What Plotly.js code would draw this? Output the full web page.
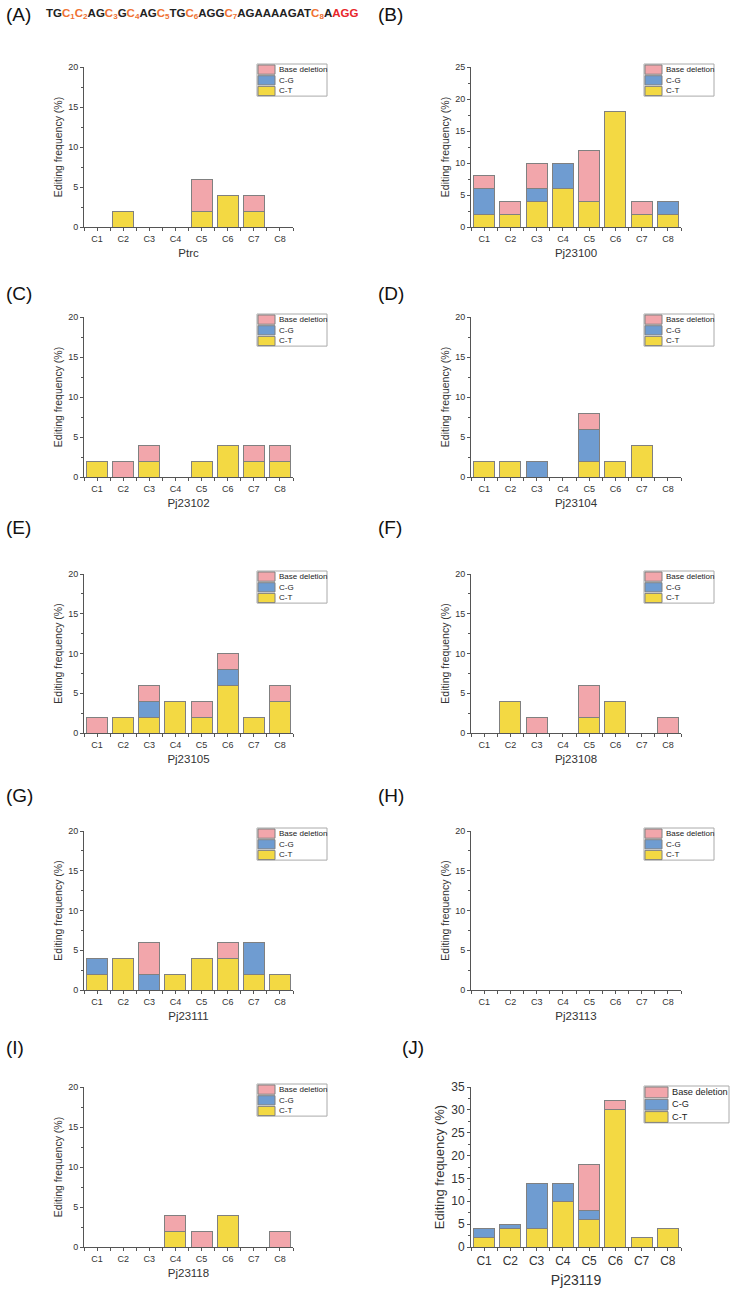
<!DOCTYPE html>
<html>
<head>
<meta charset="utf-8">
<script src="https://cdn.plot.ly/plotly-3.0.1.min.js"></script>
<style>
  html, body { margin: 0; padding: 0; background: #fff; }
  #chart { width: 732px; height: 1289px; }
</style>
</head>
<body>
<div id="chart"></div>
<script>
// editing positions and promoters
const categories = ["C1", "C2", "C3", "C4", "C5", "C6", "C7", "C8"];
const panelLabels = ["(A)", "(B)", "(C)", "(D)", "(E)", "(F)", "(G)", "(H)", "(I)", "(J)"];
const promoters = ["Ptrc", "Pj23100", "Pj23102", "Pj23104", "Pj23105", "Pj23108", "Pj23111", "Pj23113", "Pj23118", "Pj23119"];
const yMaxima = [20, 25, 20, 20, 20, 20, 20, 20, 20, 35];

// editing frequency (%), stacked C-T / C-G / base deletion
const ptrcCT = [0, 2, 0, 0, 2, 4, 2, 0];
const ptrcCG = [0, 0, 0, 0, 0, 0, 0, 0];
const ptrcDel = [0, 0, 0, 0, 4, 0, 2, 0];

const pj23100CT = [2, 2, 4, 6, 4, 18, 2, 2];
const pj23100CG = [4, 0, 2, 4, 0, 0, 0, 2];
const pj23100Del = [2, 2, 4, 0, 8, 0, 2, 0];

const pj23102CT = [2, 0, 2, 0, 2, 4, 2, 2];
const pj23102CG = [0, 0, 0, 0, 0, 0, 0, 0];
const pj23102Del = [0, 2, 2, 0, 0, 0, 2, 2];

const pj23104CT = [2, 2, 0, 0, 2, 2, 4, 0];
const pj23104CG = [0, 0, 2, 0, 4, 0, 0, 0];
const pj23104Del = [0, 0, 0, 0, 2, 0, 0, 0];

const pj23105CT = [0, 2, 2, 4, 2, 6, 2, 4];
const pj23105CG = [0, 0, 2, 0, 0, 2, 0, 0];
const pj23105Del = [2, 0, 2, 0, 2, 2, 0, 2];

const pj23108CT = [0, 4, 0, 0, 2, 4, 0, 0];
const pj23108CG = [0, 0, 0, 0, 0, 0, 0, 0];
const pj23108Del = [0, 0, 2, 0, 4, 0, 0, 2];

const pj23111CT = [2, 4, 0, 2, 4, 4, 2, 2];
const pj23111CG = [2, 0, 2, 0, 0, 0, 4, 0];
const pj23111Del = [0, 0, 4, 0, 0, 2, 0, 0];

const pj23113CT = [0, 0, 0, 0, 0, 0, 0, 0];
const pj23113CG = [0, 0, 0, 0, 0, 0, 0, 0];
const pj23113Del = [0, 0, 0, 0, 0, 0, 0, 0];

const pj23118CT = [0, 0, 0, 2, 0, 4, 0, 0];
const pj23118CG = [0, 0, 0, 0, 0, 0, 0, 0];
const pj23118Del = [0, 0, 0, 2, 2, 0, 0, 2];

const pj23119CT = [2, 4, 4, 10, 6, 30, 2, 4];
const pj23119CG = [2, 1, 10, 4, 2, 0, 0, 0];
const pj23119Del = [0, 0, 0, 0, 10, 2, 0, 0];

const ctSeries = [ptrcCT, pj23100CT, pj23102CT, pj23104CT, pj23105CT, pj23108CT, pj23111CT, pj23113CT, pj23118CT, pj23119CT];
const cgSeries = [ptrcCG, pj23100CG, pj23102CG, pj23104CG, pj23105CG, pj23108CG, pj23111CG, pj23113CG, pj23118CG, pj23119CG];
const delSeries = [ptrcDel, pj23100Del, pj23102Del, pj23104Del, pj23105Del, pj23108Del, pj23111Del, pj23113Del, pj23118Del, pj23119Del];

const W = 732, H = 1289;
const fx = (px) => px / W;
const fy = (py) => 1 - py / H;

const colX = [[84, 293], [471, 681]];
const rowY = [[67, 227], [317, 477], [574, 733], [831, 990], [1087, 1247]];
const labelPos = [[4, 15], [376, 15], [4, 293], [376, 293], [4, 527], [376, 527], [4, 795], [376, 795], [4, 1047], [400, 1047]];

const fills = { "C-T": "#f3d943", "C-G": "#6f9cd1", "Base deletion": "#f2a6ab" };
const outline = "#808080";
const axisColor = "#555";
const textColor = "#333";
const FONT = "Liberation Sans, Arial, sans-serif";

const positions = categories.map((c, i) => i);
const traces = [];
const shapes = [];
const annotations = [];
const layout = {
  width: W,
  height: H,
  margin: { l: 0, r: 0, t: 0, b: 0 },
  paper_bgcolor: "#fff",
  plot_bgcolor: "rgba(0,0,0,0)",
  barmode: "stack",
  showlegend: false,
  font: { family: FONT, color: textColor },
};

function addLegend(x0, x1, top, rowH, swW, fontSize) {
  const rows = ["Base deletion", "C-G", "C-T"];
  shapes.push({
    type: "rect", xref: "paper", yref: "paper",
    x0: fx(x0), x1: fx(x1), y0: fy(top + rowH * 3), y1: fy(top),
    line: { color: "#aaa", width: 1 }, fillcolor: "#fff",
  });
  rows.forEach((nm, r) => {
    shapes.push({
      type: "rect", xref: "paper", yref: "paper",
      x0: fx(x0 + 1), x1: fx(x0 + 1 + swW),
      y0: fy(top + (r + 1) * rowH - 0.5), y1: fy(top + r * rowH + 1),
      line: { color: outline, width: 1 }, fillcolor: fills[nm],
    });
    annotations.push({
      xref: "paper", yref: "paper", x: fx(x0 + swW + 3), y: fy(top + (r + 0.5) * rowH),
      xanchor: "left", yanchor: "middle", showarrow: false, text: nm,
      font: { size: fontSize, color: "#222", family: FONT },
    });
  });
}

promoters.forEach((name, i) => {
  const col = i % 2, row = Math.floor(i / 2);
  const big = i === 9;
  const n = i === 0 ? "" : String(i + 1);
  const xa = "x" + n, ya = "y" + n;

  [[ctSeries[i], "C-T"], [cgSeries[i], "C-G"], [delSeries[i], "Base deletion"]].forEach(([vals, nm]) => {
    traces.push({
      type: "bar",
      x: positions,
      y: vals,
      name: nm,
      xaxis: xa,
      yaxis: ya,
      width: 0.8,
      customdata: categories,
      hovertemplate: name + " %{customdata}<br>" + nm + ": %{y}%<extra></extra>",
      marker: { color: fills[nm], line: { color: outline, width: 1 } },
    });
  });

  layout["xaxis" + n] = {
    domain: [fx(colX[col][0]), fx(colX[col][1])],
    anchor: ya,
    range: [-0.5, 7.5],
    tickmode: "array",
    tickvals: positions,
    ticktext: categories,
    ticks: "outside",
    ticklen: 3,
    tickcolor: axisColor,
    showline: true,
    linecolor: axisColor,
    linewidth: 1,
    showgrid: false,
    zeroline: false,
    tickfont: { size: big ? 12 : 9, color: textColor },
    minor: { tickmode: "linear", tick0: 0.5, dtick: 1, ticks: "outside", ticklen: 3, tickcolor: axisColor },
    title: { text: name, font: { size: big ? 14 : 11.5, color: textColor }, standoff: big ? 7 : 6 },
    fixedrange: true,
  };
  layout["yaxis" + n] = {
    domain: [fy(rowY[row][1]), fy(rowY[row][0])],
    anchor: xa,
    range: [0, yMaxima[i]],
    dtick: 5,
    ticks: "outside",
    ticklen: 3,
    tickcolor: axisColor,
    showline: true,
    linecolor: axisColor,
    linewidth: 1,
    showgrid: false,
    zeroline: false,
    tickfont: { size: big ? 12 : 9, color: textColor },
    minor: { dtick: 2.5, ticks: "outside", ticklen: 2, tickcolor: axisColor },
    title: { text: "Editing frequency (%)", font: { size: big ? 13 : 10.5, color: textColor }, standoff: 3 },
    fixedrange: true,
  };

  annotations.push({
    xref: "paper", yref: "paper", x: fx(labelPos[i][0]), y: fy(labelPos[i][1]),
    xanchor: "left", yanchor: "middle", showarrow: false, text: panelLabels[i],
    font: { size: 19, color: "#111", family: FONT },
  });

  if (big) {
    addLegend(644, 729, rowY[row][0] - 1, 12.3, 23, 9.2);
  } else {
    addLegend(col === 0 ? 257 : 644, col === 0 ? 327 : 714, rowY[row][0] - 3, 10.7, 17, 8);
  }
});

// sgRNA sequence with numbered cytosines
const orange = "#f07232", red = "#e8262a";
const cPos = (k) => `<span style="color:${orange}">C<sub>${k}</sub></span>`;
const seqText = "<b>TG" + cPos(1) + cPos(2) + "AG" + cPos(3) + "G" + cPos(4) + "AG" + cPos(5) +
  "TG" + cPos(6) + "AGG" + cPos(7) + "AGAAAAGAT" + cPos(8) + "A" +
  `<span style="color:${red}">AGG</span></b>`;
annotations.push({
  xref: "paper", yref: "paper", x: fx(44), y: fy(14),
  xanchor: "left", yanchor: "middle", showarrow: false, text: seqText,
  font: { size: 11.5, color: "#222", family: FONT },
});

layout.shapes = shapes;
layout.annotations = annotations;

Plotly.newPlot("chart", traces, layout, { displayModeBar: false });
</script>
</body>
</html>
